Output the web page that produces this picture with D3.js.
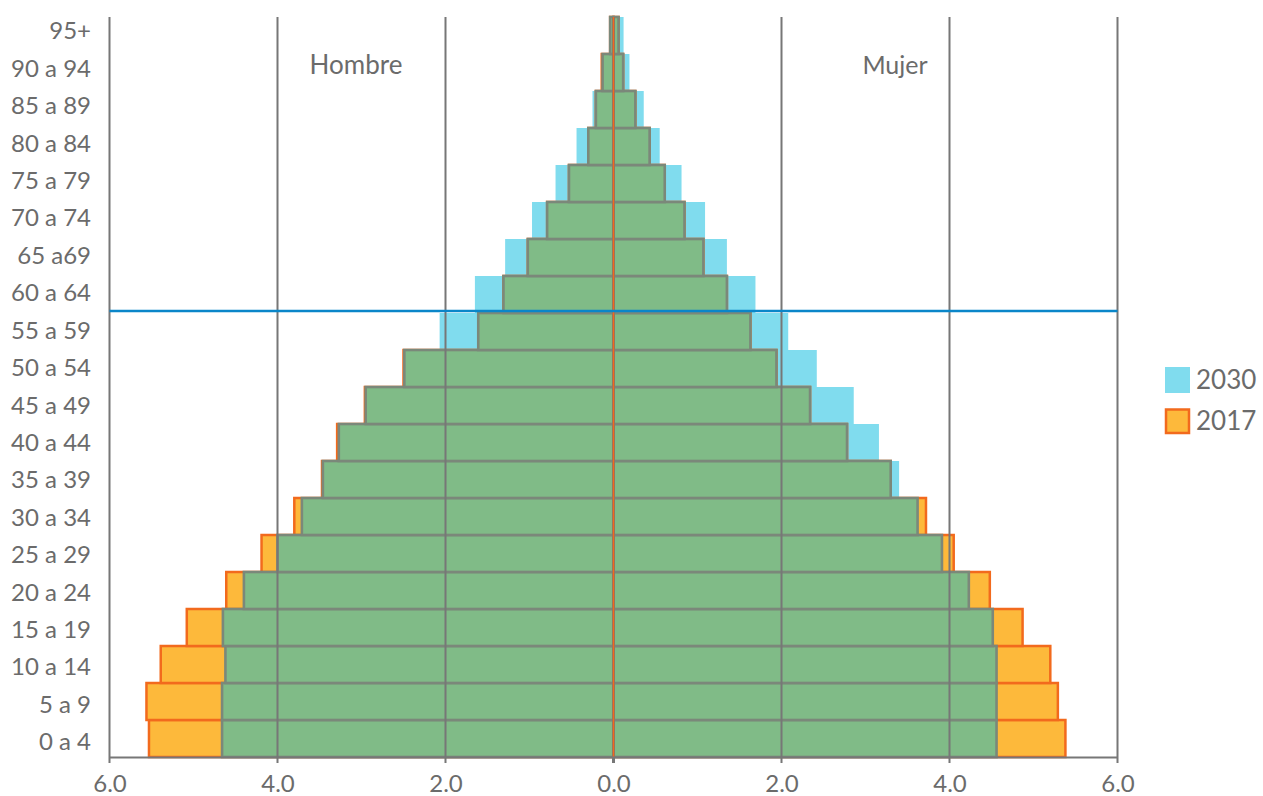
<!DOCTYPE html>
<html>
<head>
<meta charset="utf-8">
<script src="https://cdn.jsdelivr.net/npm/d3@7"></script>
<style>
  html, body { margin: 0; padding: 0; background: #fff; }
  svg { display: block; }
  text { font-family: Lato, "Open Sans", sans-serif; fill: #6b6b6b; }
</style>
</head>
<body>
<svg id="chart" width="1263" height="796"></svg>
<script>
// Age groups, bottom to top
const ageGroups = ["0 a 4","5 a 9","10 a 14","15 a 19","20 a 24","25 a 29","30 a 34","35 a 39","40 a 44","45 a 49","50 a 54","55 a 59","60 a 64","65 a69","70 a 74","75 a 79","80 a 84","85 a 89","90 a 94","95+"];
// Percent of population
const hombre2017 = [5.53,5.56,5.39,5.08,4.61,4.19,3.80,3.47,3.29,2.96,2.50,1.61,1.31,1.02,0.79,0.53,0.30,0.21,0.14,0.04];
const hombre2030 = [4.66,4.66,4.62,4.65,4.40,4.00,3.71,3.46,3.27,2.95,2.49,2.07,1.65,1.29,0.97,0.69,0.44,0.25,0.13,0.04];
const mujer2017  = [5.38,5.29,5.20,4.87,4.48,4.05,3.72,3.30,2.78,2.34,1.94,1.63,1.35,1.07,0.845,0.61,0.43,0.26,0.115,0.06];
const mujer2030  = [4.56,4.56,4.56,4.515,4.23,3.91,3.62,3.40,3.16,2.86,2.42,2.08,1.69,1.35,1.09,0.81,0.55,0.36,0.19,0.12];
const xTicks = [-6,-4,-2,0,2,4,6];
const legendLabels = ["2030","2017"];
const sideLabels = ["Hombre","Mujer"];
const refLineAge = "60 a 64";

(function () {
const svg = d3.select("#chart");
const pLeft = 109.5, pRight = 1117.5, pTop = 17, pBottom = 757;

const x = d3.scaleLinear().domain([-6, 6]).range([pLeft, pRight]);
const y = d3.scaleBand().domain(ageGroups.slice().reverse()).range([pTop, pBottom]).padding(0);
// category labels are spread slightly wider than the bars
const yLab = d3.scaleBand().domain(ageGroups.slice().reverse()).range([15.8, 764.2]).padding(0);
const bw = y.bandwidth();

const C = {
  blue: "#80dcee", orange: "#fdb93b", orangeStroke: "#f26a1d",
  green: "#80bb87", greenStroke: "#7b887a", grid: "#777777", ref: "#0a86c9"
};

const rows = ageGroups.map((g, i) => ({
  g, h17: hombre2017[i], h30: hombre2030[i], m17: mujer2017[i], m30: mujer2030[i]
}));

function bars(cls, valFn, side, fill, stroke, sw) {
  svg.append("g").selectAll("rect." + cls).data(rows).join("rect")
    .attr("class", cls)
    .attr("x", d => side < 0 ? x(-valFn(d)) : x(0))
    .attr("width", d => side < 0 ? x(0) - x(-valFn(d)) : x(valFn(d)) - x(0))
    .attr("y", d => y(d.g))
    .attr("height", bw)
    .attr("fill", fill)
    .attr("stroke", stroke)
    .attr("stroke-width", sw);
}

// 2030 (blue)
bars("h30", d => d.h30, -1, C.blue, "none", 0);
bars("m30", d => d.m30, 1, C.blue, "none", 0);
// 2017 (orange)
bars("h17", d => d.h17, -1, C.orange, C.orangeStroke, 2.5);
bars("m17", d => d.m17, 1, C.orange, C.orangeStroke, 2.5);
// overlap (green)
bars("hov", d => Math.min(d.h17, d.h30), -1, C.green, C.greenStroke, 2.6);
bars("mov", d => Math.min(d.m17, d.m30), 1, C.green, C.greenStroke, 2.6);

// Vertical gridlines
svg.append("g").selectAll("line.grid").data(xTicks).join("line")
  .attr("class", "grid")
  .attr("x1", d => x(d)).attr("x2", d => x(d))
  .attr("y1", pTop).attr("y2", pBottom + 6)
  .attr("stroke", C.grid).attr("stroke-width", d => d === 0 ? 3 : 2);

// Center orange line
svg.append("line")
  .attr("x1", x(0)).attr("x2", x(0)).attr("y1", pTop).attr("y2", pBottom)
  .attr("stroke", C.orangeStroke).attr("stroke-width", 1.6);

// Bottom axis
const xAxis = d3.axisBottom(x).tickValues(xTicks).tickSize(0).tickPadding(0)
  .tickFormat(d => Math.abs(d).toFixed(1));
const ax = svg.append("g").attr("transform", `translate(0,${pBottom})`).call(xAxis);
ax.select(".domain").attr("stroke", C.grid).attr("stroke-width", 2);
ax.selectAll(".tick text").attr("y", 18).attr("dy", "0.71em")
  .style("font-size", "24px").style("font-family", "Lato, sans-serif").attr("fill", "#6b6b6b");

// Left category labels
const yAxis = d3.axisLeft(yLab).tickSize(0).tickPadding(0);
const ay = svg.append("g").attr("transform", `translate(91,0)`).call(yAxis);
ay.select(".domain").remove();
ay.selectAll(".tick text").style("font-size", "24px").style("font-family", "Lato, sans-serif")
  .attr("fill", "#6b6b6b").attr("dy", "0.2em");

// Reference line
const refY = y(refLineAge) + bw - 2;
svg.append("line")
  .attr("x1", pLeft).attr("x2", pRight).attr("y1", refY).attr("y2", refY)
  .attr("stroke", C.ref).attr("stroke-width", 2.5);

// Side labels
svg.append("text").attr("x", 356).attr("y", 74).attr("text-anchor", "middle")
  .style("font-size", "26px").text(sideLabels[0]);
svg.append("text").attr("x", 895).attr("y", 74).attr("text-anchor", "middle")
  .style("font-size", "25px").text(sideLabels[1]);

// Legend
const lg = svg.append("g");
lg.append("rect").attr("x", 1165).attr("y", 367).attr("width", 25).attr("height", 26).attr("fill", C.blue);
lg.append("rect").attr("x", 1166).attr("y", 409.5).attr("width", 23).attr("height", 23.5)
  .attr("fill", C.orange).attr("stroke", C.orangeStroke).attr("stroke-width", 2.5);
lg.append("text").attr("x", 1196).attr("y", 389).style("font-size", "26px").text(legendLabels[0]);
lg.append("text").attr("x", 1196).attr("y", 430).style("font-size", "26px").text(legendLabels[1]);
})();
</script>
</body>
</html>
